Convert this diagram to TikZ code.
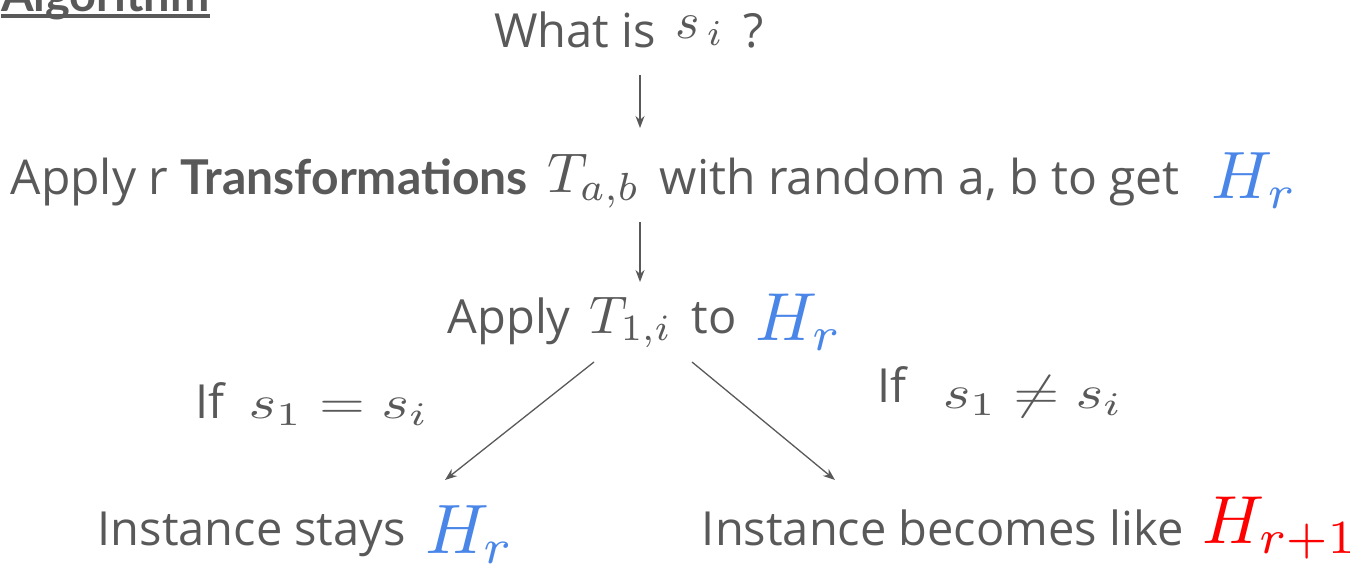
\documentclass[tikz,border=0pt]{standalone}
\usepackage{graphicx}
\usepackage{fontspec}
\setmainfont{Open Sans}
\newfontfamily\latofam{Lato}
\usetikzlibrary{positioning,arrows.meta}
\definecolor{txtgray}{HTML}{595959}
\definecolor{hblue}{HTML}{4A86E8}
\definecolor{hred}{HTML}{FF0000}
% math scaled up from 10pt, raised by #2
\newcommand{\mth}[3]{\hspace{0.15em}\raisebox{#2}{\scalebox{#1}{\normalsize$#3$}}\hspace{0.15em}}
\newcommand{\mwide}[2]{\scalebox{5.9}[#1]{\normalsize$#2$}}
\newcommand{\bfword}[1]{{\latofam\bfseries #1}}

\begin{document}
\begin{tikzpicture}[
    x=1pt, y=-1pt,
    % Styles
    txt/.style={text=txtgray, font=\fontsize{47}{56}\selectfont, inner sep=0pt},
    arrow/.style={-{Stealth[length=12pt,width=9pt]}, draw=txtgray, line width=1.3pt},
]
    \useasboundingbox (0,0) rectangle (1358,565);

    % Title
    \node[txt, anchor=base west] (algo) at (1,11) {\bfword{Algorithm}};
    \draw[txtgray, line width=4pt] ([yshift=-5pt]algo.base west) -- ([yshift=-5pt]algo.base east);

    % Steps
    \node[txt, anchor=base] (what) at (629,47) {What is \mth{5.2}{9pt}{s_{\,i}} ?};
    \node[txt, anchor=base, font=\fontsize{48}{56}\selectfont] (apply) at (654,194) {Apply r \bfword{Transformations}\ \mth{5.6}{2pt}{T_{a,b}}\ with random a, b to get \ \mth{6.7}{-4pt}{\color{hblue}H_r}};
    \node[txt, anchor=base] (step) at (645,333) {Apply \mth{5.3}{0pt}{T_{1,i}} to \mth{6.8}{-7pt}{\color{hblue}H_r}};

    % Outcomes
    \node[txt, anchor=base] (stays) at (306,545) {Instance stays \mth{7.0}{-8pt}{\color{hblue}H_r}};
    \node[txt, anchor=base] (becomes) at (1030,545) {Instance becomes like \mth{6.8}{2pt}{\color{hred}H_{r+1}}};

    % Conditions
    \node[txt, anchor=base] (same) at (312,418) {If \ \mwide{4.7}{s_1 = s_i}};
    \node[txt, anchor=base] (diff) at (1000,408) {\raisebox{6pt}{If}\ \ \ \mwide{4.7}{s_1 \neq s_i}};

    % Connections
    \draw[arrow] ([yshift=-28pt]what.base -| 640,0) -- ([yshift=66pt]apply.base -| 640,0);
    \draw[arrow] ([yshift=-28pt]apply.base -| 640,0) -- ([yshift=51pt]step.base -| 640,0);
    \draw[arrow] ([xshift=-51pt,yshift=-29pt]step.base) -- ([xshift=139pt,yshift=65pt]stays.base);
    \draw[arrow] ([xshift=47pt,yshift=-29pt]step.base) -- ([xshift=-195pt,yshift=65pt]becomes.base);

\end{tikzpicture}
\end{document}
